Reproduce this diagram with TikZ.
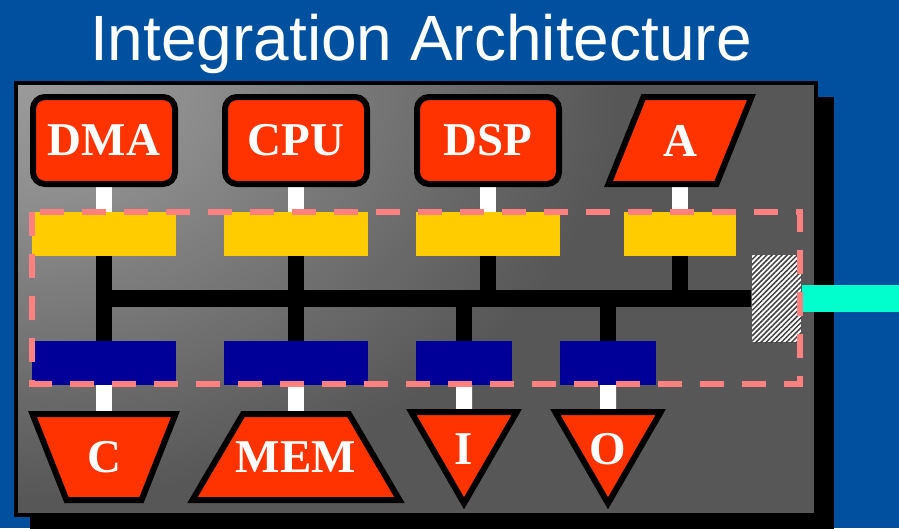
\documentclass[tikz,border=0pt]{standalone}
\usepackage{fontspec}
\setmainfont{Liberation Serif}
\setsansfont{Liberation Sans}
\usetikzlibrary{shapes.geometric,patterns.meta}

\definecolor{slideblue}{RGB}{0,80,160}
\definecolor{unitred}{RGB}{255,51,0}
\definecolor{bridgeyellow}{RGB}{255,204,0}
\definecolor{portblue}{RGB}{0,0,153}
\definecolor{domainpink}{RGB}{255,128,128}
\definecolor{linkcyan}{RGB}{0,255,204}
\definecolor{panelA}{RGB}{154,154,154}
\definecolor{panelB}{RGB}{142,142,142}
\definecolor{panelC}{RGB}{106,106,106}
\definecolor{panelD}{RGB}{87,87,87}

% light spot centred on the shaded area; the central 50bp square is
% what gets fitted to the shaded path, so it is dark from 25bp on
\pgfdeclareradialshading{panelglow}{\pgfpoint{0bp}{0bp}}{%
  color(0bp)=(panelA); color(7bp)=(panelB); color(18.5bp)=(panelC);
  color(25bp)=(panelD); color(50bp)=(panelD)}

\pgfdeclarelayer{panel}
\pgfdeclarelayer{wires}
\pgfdeclarelayer{outlines}
\pgfdeclarelayer{overlay}
\pgfsetlayers{panel,wires,outlines,main,overlay}

\tikzset{
  unitfont/.style={text=white, font=\bfseries\fontsize{47}{47}\selectfont},
  unit/.style={draw=black, line width=6pt, fill=unitred, unitfont,
    inner sep=0pt},
  % outline of a unit drawn as a polygon round a text-only node
  unitoutline/.style={draw=black, line width=6pt, fill=unitred},
  textframe/.style={unitfont, inner sep=0pt, outer sep=0pt},
  corebox/.style={unit, rectangle, rounded corners=12pt,
    minimum width=142pt, minimum height=87pt},
  tri/.style={unit, regular polygon, regular polygon sides=3,
    shape border rotate=180, minimum size=112pt,
    text height=43pt, text depth=0pt},
  bridge/.style={fill=bridgeyellow, inner sep=0pt, minimum height=44pt},
  port/.style={fill=portblue, inner sep=0pt, minimum height=44pt},
  whitelink/.style={white, line width=16pt},
  buswire/.style={black, line width=16pt},
  mainbus/.style={black, line width=17pt},
  title/.style={text=white, font=\sffamily\fontsize{64}{64}\selectfont,
    inner sep=0pt, anchor=base}
}

\begin{document}
\begin{tikzpicture}[x=1pt,y=-1pt]
\useasboundingbox (0,0) rectangle (899,528);

\begin{pgfonlayer}{panel}
  % slide background, chip shadow and shaded chip panel
  \fill[slideblue] (0,0) rectangle (899,528);
  \fill[black] (30,97) rectangle (834,532);
  \fill[panelD] (18,85) rectangle (814,513);
  \begin{scope}
    \clip (18,85) rectangle (814,513);
    \shade[shading=panelglow] (-582,-330) rectangle (618,500);
  \end{scope}
  \draw[black, line width=4pt] (16,83) rectangle (816,515);
\end{pgfonlayer}

\node[title] (title) at (421,60) {Integration Architecture};

% processing units
\node[corebox] (dma) at (104,140.5) {DMA};
\node[corebox] (cpu) at (296,140.5) {CPU};
\node[corebox] (dsp) at (488,140.5) {DSP};
\node[textframe, minimum width=143pt, minimum height=87pt]
  (acc) at (680,140.5) {A};

% bus bridges
\node[bridge, minimum width=144pt] (y1) at (104,234) {};
\node[bridge, minimum width=144pt] (y2) at (296,234) {};
\node[bridge, minimum width=144pt] (y3) at (488,234) {};
\node[bridge, minimum width=112pt] (y4) at (680,234) {};

% bus ports
\node[port, minimum width=144pt] (b1) at (104,363) {};
\node[port, minimum width=144pt] (b2) at (296,363) {};
\node[port, minimum width=96pt] (b3) at (464,363) {};
\node[port, minimum width=96pt] (b4) at (608,363) {};

% peripherals
\node[textframe, minimum width=143pt, minimum height=86pt]
  (cache) at (104,457) {C};
\node[textframe, minimum width=207pt, minimum height=86pt]
  (mem) at (296,457) {MEM};
\node[tri] (inp) at (464,442.5) {I};
\node[tri] (outp) at (608,442.5) {O};

% gateway to the outside
\node[inner sep=0pt, minimum width=49pt, minimum height=87pt,
      preaction={fill=white},
      pattern={Lines[angle=45, distance=3.6pt, line width=1.5pt]},
      pattern color=black!75] (gw) at (776.5,298.5) {};
\coordinate (busL) at (96,298.5);
\coordinate (ext) at (899,298.5);

\begin{pgfonlayer}{outlines}
  % parallelogram, funnel and trapezoid outlines
  \draw[unitoutline] ([xshift=35pt]acc.north west) -- (acc.north east)
    -- ([xshift=-35pt]acc.south east) -- (acc.south west) -- cycle;
  \draw[unitoutline] (cache.north west) -- (cache.north east)
    -- ([xshift=-34pt]cache.south east) -- ([xshift=34pt]cache.south west)
    -- cycle;
  \draw[unitoutline] ([xshift=50.5pt]mem.north west)
    -- ([xshift=-50.5pt]mem.north east) -- (mem.south east)
    -- (mem.south west) -- cycle;
\end{pgfonlayer}

\begin{pgfonlayer}{wires}
  \draw[whitelink] (dma) -- (y1);
  \draw[whitelink] (cpu) -- (y2);
  \draw[whitelink] (dsp) -- (y3);
  \draw[whitelink] (acc) -- (y4);
  \draw[whitelink] (b1) -- (cache);
  \draw[whitelink] (b2) -- (mem);
  \draw[whitelink] (b3) -- (inp);
  \draw[whitelink] (b4) -- (outp);
  \draw[mainbus] (busL) -- (gw.west);
  \draw[buswire] (y1) -- (b1);
  \draw[buswire] (y2) -- (b2);
  \draw[buswire] (y3) -- (y3 |- busL);
  \draw[buswire] (y4) -- (y4 |- busL);
  \draw[buswire] (b3) -- (b3 |- busL);
  \draw[buswire] (b4) -- (b4 |- busL);
  \draw[linkcyan, line width=27pt] (gw.east) -- (ext);
\end{pgfonlayer}

\begin{pgfonlayer}{overlay}
  \draw[domainpink, line width=6pt, dash pattern=on 24pt off 18pt]
    (32,212) rectangle (800,384);
\end{pgfonlayer}
\end{tikzpicture}
\end{document}
